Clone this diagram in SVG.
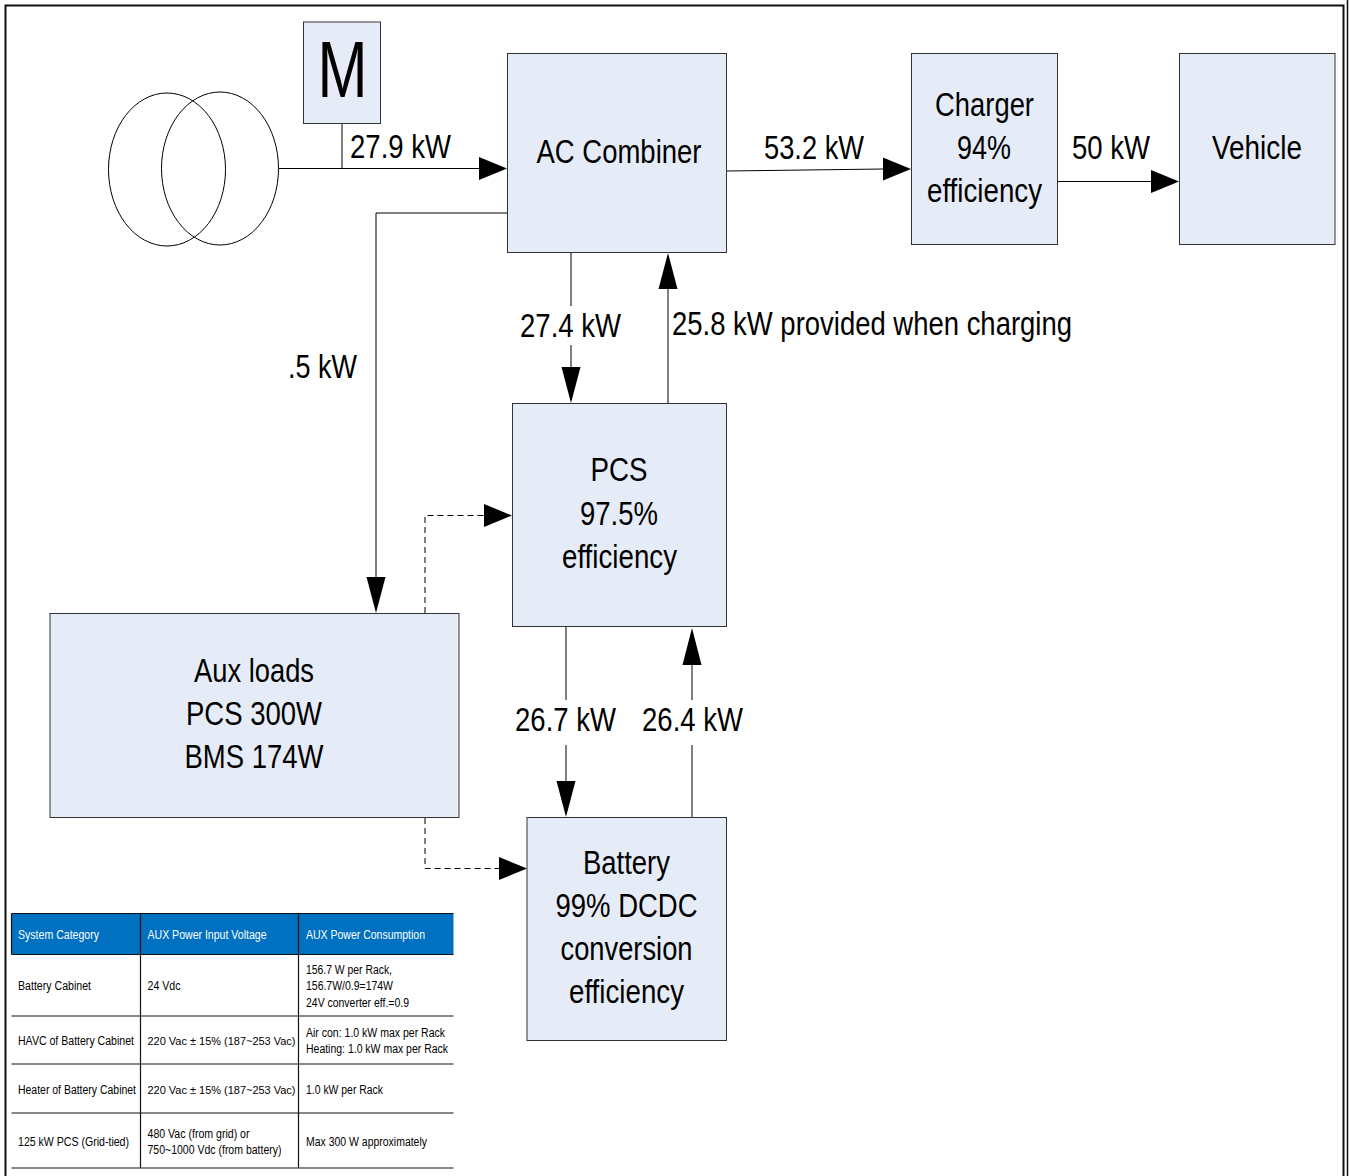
<svg xmlns="http://www.w3.org/2000/svg" width="1349" height="1176" viewBox="0 0 1349 1176">
<defs>
<style>
text{font-family:"Liberation Sans",Arial,sans-serif;fill:#000}
.n{fill:#e6ecf7;stroke:#333;stroke-width:1}
.c{fill:none;stroke:#000;stroke-width:1}
.d{fill:none;stroke:#000;stroke-width:1;stroke-dasharray:6 4}
.l{font-size:34px}
.m{font-size:34px;text-anchor:middle}
.t{font-size:12.5px}
.s{font-size:11.5px}
.h{font-size:12.5px;fill:#fff}
</style>
</defs>
<rect width="1349" height="1176" fill="#fff"/>
<path d="M5.500 1176V5.500H1343.500V1176" fill="none" stroke="#111" stroke-width="2"/>
<path d="M1347.500 0V1176" fill="none" stroke="#111" stroke-width="1.500"/>
<g id="transformer"><ellipse cx="167" cy="169.500" rx="58.500" ry="76.500" fill="none" stroke="#000"/><ellipse cx="220" cy="168.500" rx="58.500" ry="76.500" fill="none" stroke="#000"/></g>
<g id="connectors">
<path class="c" d="M279 168.500H480M342 124V168.500"/><path d="M479 157L507 168.500L479 180Z"/>
<path class="c" d="M727 171L884 169"/><path d="M883 157.500L911 169L883 180.500Z"/>
<path class="c" d="M1058 181.500H1151"/><path d="M1151 170L1179 181.500L1151 193Z"/>
<path class="c" d="M507 213H376V578"/><path d="M366.500 577L376 613L385.500 577Z"/>
<path class="c" d="M571 253V306M571 345V368"/><path d="M561.500 367L571 403L580.500 367Z"/>
<path class="c" d="M668 403V288"/><path d="M658.500 289L668 253L677.500 289Z"/>
<path class="d" d="M425 613V515.500H485"/><path d="M484 504L512 515.500L484 527Z"/>
<path class="c" d="M566 627V700M566 745V782"/><path d="M556.500 781L566 817L575.500 781Z"/>
<path class="c" d="M692 817V745M692 700V664"/><path d="M682.500 665L692 628L701.500 665Z"/>
<path class="d" d="M425 818V868.500H500"/><path d="M499 857L527 868.500L499 880Z"/>
</g>
<g id="m"><rect class="n" x="303.500" y="22" width="77" height="101.500"/><text x="342.500" y="97" font-size="80" text-anchor="middle" textLength="50" lengthAdjust="spacingAndGlyphs">M</text></g>
<g id="ac"><rect class="n" x="507.500" y="53.500" width="219" height="199"/><text class="m" x="619" y="163" textLength="165" lengthAdjust="spacingAndGlyphs">AC Combiner</text></g>
<g id="charger"><rect class="n" x="911.500" y="53.500" width="146" height="191"/><text class="m" x="984.500" y="116" textLength="99" lengthAdjust="spacingAndGlyphs">Charger</text><text class="m" x="984" y="159" textLength="54" lengthAdjust="spacingAndGlyphs">94%</text><text class="m" x="984.500" y="202" textLength="115" lengthAdjust="spacingAndGlyphs">efficiency</text></g>
<g id="vehicle"><rect class="n" x="1179.500" y="53.500" width="155.500" height="191"/><text class="m" x="1257" y="159" textLength="90" lengthAdjust="spacingAndGlyphs">Vehicle</text></g>
<g id="pcs"><rect class="n" x="512.500" y="403.500" width="214" height="223"/><text class="m" x="619" y="481" textLength="57" lengthAdjust="spacingAndGlyphs">PCS</text><text class="m" x="619" y="525" textLength="78" lengthAdjust="spacingAndGlyphs">97.5%</text><text class="m" x="619.500" y="568" textLength="115" lengthAdjust="spacingAndGlyphs">efficiency</text></g>
<g id="aux"><rect class="n" x="50" y="613.500" width="409" height="204"/><text class="m" x="254" y="682" textLength="120" lengthAdjust="spacingAndGlyphs">Aux loads</text><text class="m" x="254" y="725" textLength="136" lengthAdjust="spacingAndGlyphs">PCS 300W</text><text class="m" x="254" y="768" textLength="139" lengthAdjust="spacingAndGlyphs">BMS 174W</text></g>
<g id="battery"><rect class="n" x="527" y="817.500" width="199.500" height="223"/><text class="m" x="626.500" y="874" textLength="87" lengthAdjust="spacingAndGlyphs">Battery</text><text class="m" x="626.500" y="917" textLength="142" lengthAdjust="spacingAndGlyphs">99% DCDC</text><text class="m" x="626.500" y="960" textLength="132" lengthAdjust="spacingAndGlyphs">conversion</text><text class="m" x="626.500" y="1003" textLength="115" lengthAdjust="spacingAndGlyphs">efficiency</text></g>
<g id="labels">
<text class="l" x="350" y="158" textLength="101" lengthAdjust="spacingAndGlyphs">27.9 kW</text>
<text class="l" x="764" y="159" textLength="100" lengthAdjust="spacingAndGlyphs">53.2 kW</text>
<text class="l" x="1072" y="159" textLength="78" lengthAdjust="spacingAndGlyphs">50 kW</text>
<text class="l" x="520" y="337" textLength="101" lengthAdjust="spacingAndGlyphs">27.4 kW</text>
<text class="l" x="672" y="335" textLength="400" lengthAdjust="spacingAndGlyphs">25.8 kW provided when charging</text>
<text class="l" x="288" y="378" textLength="69" lengthAdjust="spacingAndGlyphs">.5 kW</text>
<text class="l" x="515" y="731" textLength="101" lengthAdjust="spacingAndGlyphs">26.7 kW</text>
<text class="l" x="642" y="731" textLength="101" lengthAdjust="spacingAndGlyphs">26.4 kW</text>
</g>
<g id="table">
<rect x="12" y="914" width="441.500" height="40" fill="#0070c0"/>
<path d="M11.500 913.500H453.500M11.500 954.500H453.500M11.500 1016H453.500M11.500 1064H453.500M11.500 1113H453.500M11.500 1168H453.500M11.500 913.500V954.500M140.500 913.500V1168M298.500 913.500V1168" fill="none" stroke="#111" stroke-width="1.200"/>
<text class="h" x="18" y="938.500" textLength="81" lengthAdjust="spacingAndGlyphs">System Category</text>
<text class="h" x="147.500" y="938.500" textLength="119" lengthAdjust="spacingAndGlyphs">AUX Power Input Voltage</text>
<text class="h" x="306" y="938.500" textLength="119" lengthAdjust="spacingAndGlyphs">AUX Power Consumption</text>
<text class="t" x="18" y="989.500" textLength="73" lengthAdjust="spacingAndGlyphs">Battery Cabinet</text>
<text class="t" x="147.500" y="989.500" textLength="33" lengthAdjust="spacingAndGlyphs">24 Vdc</text>
<text class="t" x="306" y="973.500" textLength="86" lengthAdjust="spacingAndGlyphs">156.7 W per Rack,</text>
<text class="t" x="306" y="989.500" textLength="87" lengthAdjust="spacingAndGlyphs">156.7W/0.9=174W</text>
<text class="t" x="306" y="1006.500" textLength="103" lengthAdjust="spacingAndGlyphs">24V converter eff.=0.9</text>
<text class="t" x="18" y="1044.500" textLength="116" lengthAdjust="spacingAndGlyphs">HAVC of Battery Cabinet</text>
<text class="s" x="147.500" y="1044.500" textLength="148" lengthAdjust="spacingAndGlyphs">220 Vac ± 15% (187~253 Vac)</text>
<text class="t" x="306" y="1036.500" textLength="139" lengthAdjust="spacingAndGlyphs">Air con: 1.0 kW max per Rack</text>
<text class="t" x="306" y="1052.500" textLength="142" lengthAdjust="spacingAndGlyphs">Heating: 1.0 kW max per Rack</text>
<text class="t" x="18" y="1093.500" textLength="118" lengthAdjust="spacingAndGlyphs">Heater of Battery Cabinet</text>
<text class="s" x="147.500" y="1093.500" textLength="148" lengthAdjust="spacingAndGlyphs">220 Vac ± 15% (187~253 Vac)</text>
<text class="t" x="306" y="1093.500" textLength="77" lengthAdjust="spacingAndGlyphs">1.0 kW per Rack</text>
<text class="t" x="18" y="1145.500" textLength="111" lengthAdjust="spacingAndGlyphs">125 kW PCS (Grid-tied)</text>
<text class="t" x="147.500" y="1137.500" textLength="102" lengthAdjust="spacingAndGlyphs">480 Vac (from grid) or</text>
<text class="t" x="147.500" y="1153.500" textLength="134" lengthAdjust="spacingAndGlyphs">750~1000 Vdc (from battery)</text>
<text class="t" x="306" y="1145.500" textLength="121" lengthAdjust="spacingAndGlyphs">Max 300 W approximately</text>
</g>
</svg>
